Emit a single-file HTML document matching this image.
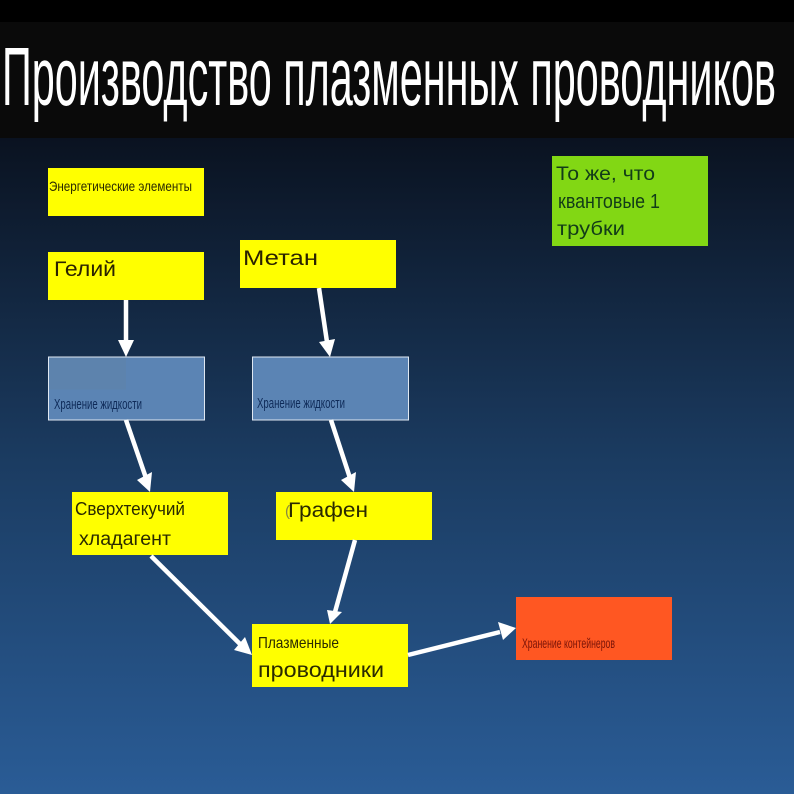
<!DOCTYPE html>
<html lang="ru">
<head>
<meta charset="utf-8">
<title>Производство плазменных проводников</title>
<style>
html,body{margin:0;padding:0;background:#000;}
svg{display:block;}
text{font-family:"Liberation Sans","DejaVu Sans",sans-serif;}
</style>
</head>
<body>
<svg xmlns="http://www.w3.org/2000/svg" width="794" height="794" viewBox="0 0 794 794">
<defs>
<linearGradient id="bg" x1="0" y1="0" x2="0" y2="1">
<stop offset="0" stop-color="#0a1220"/>
<stop offset="0.5" stop-color="#1b3c62"/>
<stop offset="1" stop-color="#2a5c96"/>
</linearGradient>
</defs>
<rect x="0" y="136" width="794" height="658" fill="url(#bg)"/>
<rect x="0" y="0" width="794" height="22" fill="#000"/>
<rect x="0" y="22" width="794" height="116" fill="#0a0a0a"/>
<text x="2" y="105" font-size="83" fill="#fff" textLength="774" lengthAdjust="spacingAndGlyphs">Производство плазменных проводников</text>

<rect x="48" y="168" width="156" height="48" fill="#ffff00"/>
<text x="49" y="191" font-size="14" fill="#2a2a00" textLength="143" lengthAdjust="spacingAndGlyphs">Энергетические элементы</text>

<rect x="48" y="252" width="156" height="48" fill="#ffff00"/>
<text x="54" y="276" font-size="21" fill="#2a2200" textLength="62" lengthAdjust="spacingAndGlyphs">Гелий</text>

<rect x="240" y="240" width="156" height="48" fill="#ffff00"/>
<text x="243" y="265" font-size="21" fill="#2a2200" textLength="75" lengthAdjust="spacingAndGlyphs">Метан</text>

<rect x="552" y="156" width="156" height="90" fill="#82d714"/>
<text x="556" y="180" font-size="19" fill="#123c18" textLength="99" lengthAdjust="spacingAndGlyphs">То же, что</text>
<text x="558" y="208" font-size="20" fill="#123c18" textLength="102" lengthAdjust="spacingAndGlyphs">квантовые 1</text>
<text x="557" y="235" font-size="19" fill="#123c18" textLength="68" lengthAdjust="spacingAndGlyphs">трубки</text>

<rect x="48.5" y="357" width="156" height="63" fill="#5b84b4" stroke="#dfe8f2" stroke-width="1"/>
<rect x="49" y="357.5" width="77" height="32" fill="#62809f" opacity="0.3"/>
<text x="54" y="409" font-size="15" fill="#0e2a58" textLength="88" lengthAdjust="spacingAndGlyphs">Хранение жидкости</text>

<rect x="252.5" y="357" width="156" height="63" fill="#5b84b4" stroke="#dfe8f2" stroke-width="1"/>
<text x="257" y="408" font-size="15" fill="#0e2a58" textLength="88" lengthAdjust="spacingAndGlyphs">Хранение жидкости</text>

<rect x="72" y="492" width="156" height="63" fill="#ffff00"/>
<text x="75" y="515" font-size="18" fill="#2a2a00" textLength="110" lengthAdjust="spacingAndGlyphs">Сверхтекучий</text>
<text x="79" y="545" font-size="19" fill="#2a2a00" textLength="92" lengthAdjust="spacingAndGlyphs">хладагент</text>

<rect x="276" y="492" width="156" height="48" fill="#ffff00"/>
<text x="285" y="516" font-size="15" fill="#8a8a40">(</text>
<text x="288" y="517" font-size="21" fill="#2a2a00" textLength="80" lengthAdjust="spacingAndGlyphs">Графен</text>

<rect x="252" y="624" width="156" height="63" fill="#ffff00"/>
<text x="258" y="648" font-size="16" fill="#2a2a00" textLength="81" lengthAdjust="spacingAndGlyphs">Плазменные</text>
<text x="258" y="677" font-size="21" fill="#2a2a00" textLength="126" lengthAdjust="spacingAndGlyphs">проводники</text>

<rect x="516" y="597" width="156" height="63" fill="#ff5722"/>
<text x="522" y="648" font-size="14" fill="#7a1408" textLength="93" lengthAdjust="spacingAndGlyphs">Хранение контейнеров</text>

<g stroke="#fff" stroke-width="4.5" fill="none">
<line x1="126" y1="300" x2="126" y2="342"/>
<line x1="319" y1="288" x2="327" y2="342"/>
<line x1="126" y1="420" x2="146" y2="478"/>
<line x1="331" y1="420" x2="350" y2="478"/>
<line x1="151" y1="556" x2="240" y2="644"/>
<line x1="355" y1="540" x2="335" y2="612"/>
<line x1="408" y1="655" x2="500" y2="632"/>
</g>
<g fill="#fff">
<polygon points="126,357 118,340 134,340"/>
<polygon points="330,357 319,342 335,339"/>
<polygon points="150,492 137,480 152,472"/>
<polygon points="354,492 341,480 356,472"/>
<polygon points="252,655 234,650 245,637"/>
<polygon points="330,624 327,610 342,612"/>
<polygon points="516,628 498,622 503,640"/>
</g>
</svg>
</body>
</html>
